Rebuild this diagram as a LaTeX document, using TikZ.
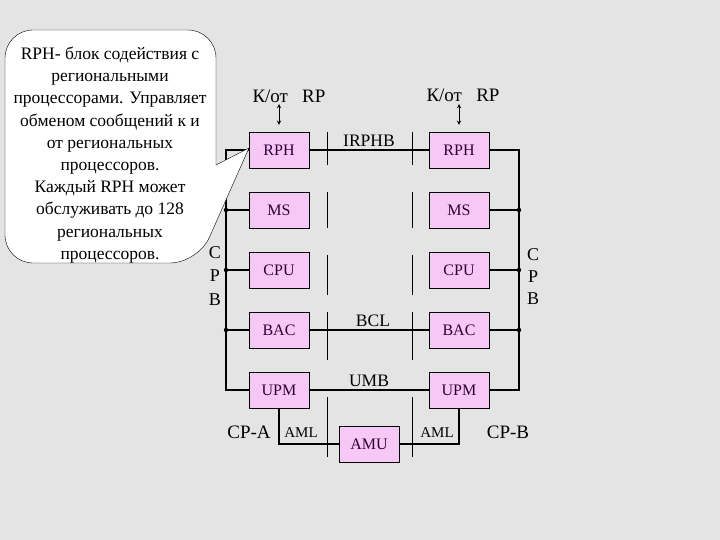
\documentclass[tikz,border=0pt]{standalone}
\usepackage{fontspec}
\setmainfont{Liberation Serif}
\usetikzlibrary{arrows}
\definecolor{bg}{RGB}{228,228,228}
\definecolor{blkfill}{RGB}{246,200,246}
\definecolor{blktext}{RGB}{45,0,55}
\tikzset{
  blk/.style={draw, thin, fill=blkfill, text=blktext, minimum width=60pt, minimum height=36pt, inner sep=0pt, font=\fontsize{16}{19}\selectfont},
  bus/.style={line width=1.3pt},
  sep/.style={line width=0.7pt},
  dbl/.style={<->, >=stealth, line width=0.9pt},
  lab/.style={font=\fontsize{17.5}{20}\selectfont, inner sep=1pt},
  big/.style={font=\fontsize{19}{22}\selectfont, inner sep=1pt},
  sml/.style={font=\fontsize{15}{18}\selectfont, inner sep=1pt},
  callout/.style={draw, thin, fill=white}
}

\begin{document}
\begin{tikzpicture}[x=1pt, y=-1pt]
		\fill[bg] (0,0) rectangle (720,540);
		% separators between the planes
		\foreach \x in {327,412}
		  \foreach \a/\b in {132/165, 192/228, 255/295, 312/360, 397/457}
		    \draw[sep] (\x,\a) -- (\x,\b);
		% blocks of CP-A and CP-B
		\foreach \n/\t/\y in {rph/RPH/150, ms/MS/210, cpu/CPU/270, bac/BAC/330, upm/UPM/390} {
		  \node[blk] (\n A) at (279,\y) {\t};
		  \node[blk] (\n B) at (459,\y) {\t};
		}
		\node[blk] (amu) at (369,444) {AMU};
		% CPB buses
		\coordinate (busAt) at (226,150);
		\coordinate (busAb) at (226,390);
		\coordinate (busBt) at (519,150);
		\coordinate (busBb) at (519,390);
		\draw[bus] (rphA.west) -- (busAt) -- (busAb) -- (upmA.west);
		\draw[bus] (rphB.east) -- (busBt) -- (busBb) -- (upmB.east);
		\foreach \n in {ms,cpu,bac} {
		  \draw[bus] (\n A.west) -- (\n A.west -| busAt);
		  \fill (\n A.west -| busAt) circle (2.2pt);
		  \draw[bus] (\n B.east) -- (\n B.east -| busBt);
		  \fill (\n B.east -| busBt) circle (2.2pt);
		}
		% links between the planes
		\draw[bus] (rphA) -- node[lab, above=2pt] (irphb) {IRPHB} (rphB);
		\draw[bus] (bacA) -- node[lab, above=2pt, xshift=4pt] (bcl) {BCL} (bacB);
		\draw[bus] (upmA) -- node[lab, above=2pt] (umb) {UMB} (upmB);
		\draw[bus] (upmA.south) |- (amu.west);
		\draw[bus] (upmB.south) |- (amu.east);
		\node[sml] (amlA) at (301,433) {AML};
		\node[sml] (amlB) at (437,433) {AML};
		\node[big] (cpa) at (249,432) {CP-A};
		\node[big] (cpb) at (508,432) {CP-B};
		% to/from regional processors
		\node[big] (kA) at (289,96) {К/от~~~RP};
		\node[big] (kB) at (463,95) {К/от~~~RP};
		\coordinate (inA) at (279,104);
		\coordinate (inB) at (459,104);
		\draw[dbl] (inA) -- ([yshift=7pt]rphA.north);
		\draw[dbl] (inB) -- ([yshift=7pt]rphB.north);
		% callout
		\coordinate (tip) at (249,148);
		\draw[callout] (tip) -- (216,165) [rounded corners=28pt] -- (216,30) -- (5,30) -- (5,263) -- (198,263) [sharp corners] -- cycle;
		\node[font=\fontsize{17.5}{22.2}\selectfont, align=center, inner sep=0pt] (note) at (110,155) {RPH- блок содействия с\\региональными\\процессорами. Управляет\\обменом сообщений к и\\от региональных\\процессоров.\\Каждый RPH может\\обслуживать до 128\\региональных\\процессоров.};
		\node[lab, align=center, font=\fontsize{18}{23.5}\selectfont] (cpbA) at (215,276) {C\\P\\B};
		\node[lab, align=center, font=\fontsize{18}{22}\selectfont] (cpbB) at (533,277) {C\\P\\B};
	\end{tikzpicture}
\end{document}
